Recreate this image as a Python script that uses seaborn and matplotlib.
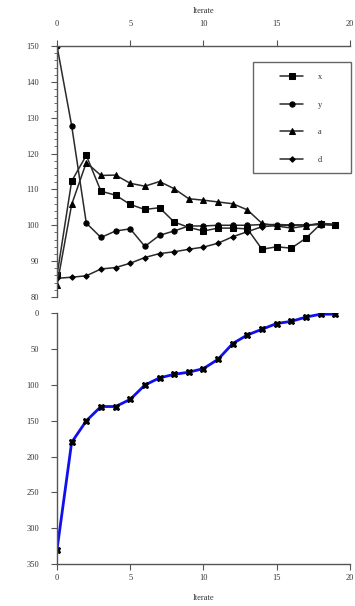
import numpy as np
import pandas as pd
import matplotlib
matplotlib.use("Agg")
import matplotlib.pyplot as plt
import seaborn as sns
from matplotlib.ticker import MultipleLocator
from matplotlib.patches import Rectangle

# Iterations
iterate = list(range(20))

# Top panel series
x_vals = [86, 112.3, 119.5, 109.5, 108.4, 105.8, 104.4, 104.9, 100.9, 99.4,
          98.4, 99.2, 99.2, 99.0, 93.3, 94.0, 93.6, 96.4, 100.3, 100.2]
y_vals = [150, 127.8, 100.6, 96.6, 98.4, 99.0, 94.1, 97.2, 98.4, 99.8,
          99.8, 100.0, 100.0, 100.0, 100.2, 100.2, 100.1, 100.1, 100.2, 100.0]
a_vals = [83.3, 105.8, 117.5, 113.9, 114.0, 111.7, 110.9, 112.2, 110.2, 107.4,
          107.0, 106.5, 106.0, 104.3, 100.5, 99.8, 99.2, 99.8, 100.6, 100.2]
d_vals = [85.2, 85.5, 85.9, 87.8, 88.2, 89.4, 91.0, 92.1, 92.6, 93.3,
          93.9, 95.0, 96.8, 98.2, 99.6, 99.9, 100.0, 100.1, 100.3, 100.2]

# Bottom panel series
bottom_vals = [330, 180, 150, 130, 130, 120, 100, 90, 85, 82,
               77, 64, 42, 30, 22, 14, 11, 5, 1, 1]

series_names = ["x", "y", "a", "d"]
series_markers = {"x": "s", "y": "o", "a": "^", "d": "D"}
series_sizes = {"x": 4.2, "y": 3.8, "a": 4.2, "d": 2.8}


def main():
    sns.set_theme(style="white")
    plt.rcParams["font.family"] = ["Liberation Serif", "DejaVu Serif"]
    plt.rcParams["font.size"] = 6

    top = pd.DataFrame({"Iterate": iterate, "x": x_vals, "y": y_vals,
                        "a": a_vals, "d": d_vals})

    fig = plt.figure(figsize=(3.55, 6.06), dpi=100)
    ax1 = fig.add_axes([0.1606, 0.510, 0.825, 0.414])
    ax2 = fig.add_axes([0.1606, 0.0693, 0.825, 0.4134])

    spine_col = "#555555"
    text_col = "#333333"

    # top chart
    for name in series_names:
        sns.lineplot(data=top, x="Iterate", y=name, ax=ax1, color="#2a2a2a",
                     linewidth=1.1, marker=series_markers[name],
                     markersize=series_sizes[name], markerfacecolor="black",
                     markeredgecolor="black", label=name)

    ax1.set_xlim(0, 20)
    ax1.set_ylim(80, 150)
    ax1.xaxis.set_major_locator(MultipleLocator(5))
    ax1.yaxis.set_major_locator(MultipleLocator(10))
    ax1.yaxis.set_minor_locator(MultipleLocator(2))
    ax1.xaxis.tick_top()
    ax1.xaxis.set_label_position("top")
    ax1.set_xlabel("Iterate", fontsize=6, color=text_col, labelpad=5)
    ax1.set_ylabel("")
    for s in ["right", "bottom"]:
        ax1.spines[s].set_visible(False)
    for s in ["top", "left"]:
        ax1.spines[s].set_color(spine_col)
        ax1.spines[s].set_linewidth(1.0)
    ax1.tick_params(axis="x", which="major", top=True, bottom=False,
                    direction="out", length=4, width=0.8, color=spine_col,
                    labelsize=6, labelcolor=text_col, pad=9)
    ax1.tick_params(axis="y", which="major", left=True, direction="out",
                    length=4, width=0.8, color=spine_col, labelsize=6,
                    labelcolor=text_col, pad=9)
    ax1.tick_params(axis="y", which="minor", left=True, direction="out",
                    length=2.5, width=0.6, color=spine_col)

    # legend box drawn separately, entries placed inside it
    box = Rectangle((0.669, 0.494), 0.334, 0.442, transform=ax1.transAxes,
                    facecolor="white", edgecolor="#666666", linewidth=1.0,
                    clip_on=False, zorder=4)
    ax1.add_patch(box)
    leg = ax1.legend(loc="upper left", bbox_to_anchor=(0.761, 0.892),
                     borderaxespad=0, borderpad=0, fontsize=6, frameon=False,
                     handlelength=2.8, handletextpad=1.8, labelspacing=2.35)
    leg.set_zorder(5)
    for t in leg.get_texts():
        t.set_color(text_col)

    # bottom chart
    bottom = pd.DataFrame({"Iterate": iterate, "value": bottom_vals})
    sns.lineplot(data=bottom, x="Iterate", y="value", ax=ax2, color="#1010ee",
                 linewidth=2.0, marker="X", markersize=5,
                 markerfacecolor="black", markeredgecolor="black")
    ax2.set_xlim(0, 20)
    ax2.set_ylim(350, 0)
    ax2.xaxis.set_major_locator(MultipleLocator(5))
    ax2.yaxis.set_major_locator(MultipleLocator(50))
    ax2.set_xlabel("Iterate", fontsize=6, color=text_col, labelpad=9)
    ax2.set_ylabel("")
    for s in ["right", "top"]:
        ax2.spines[s].set_visible(False)
    for s in ["bottom", "left"]:
        ax2.spines[s].set_color(spine_col)
        ax2.spines[s].set_linewidth(1.0)
    ax2.tick_params(axis="x", which="major", bottom=True, direction="out",
                    length=4, width=0.8, color=spine_col, labelsize=6,
                    labelcolor=text_col, pad=3)
    ax2.tick_params(axis="y", which="major", left=True, direction="out",
                    length=4, width=0.8, color=spine_col, labelsize=6,
                    labelcolor=text_col, pad=9)

    fig.savefig("out.png", dpi=100)


if __name__ == "__main__":
    main()
